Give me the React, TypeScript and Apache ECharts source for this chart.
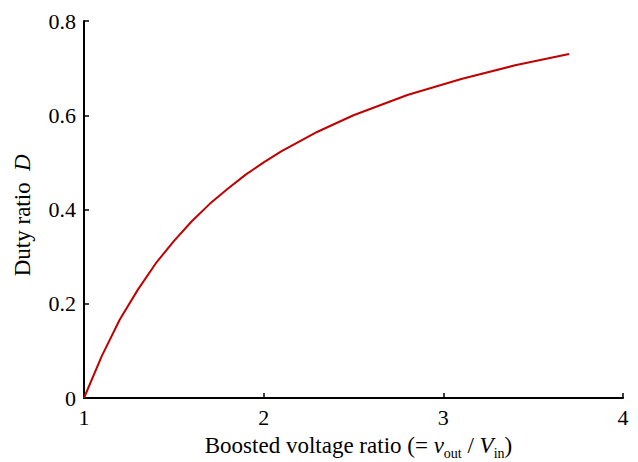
import React, { useEffect, useRef } from "react";
import * as echarts from "echarts";

const ratio = [1, 1.1, 1.2, 1.3, 1.4, 1.5, 1.6, 1.7, 1.8, 1.9, 2.0, 2.1, 2.3, 2.5, 2.8, 3.1, 3.4, 3.6, 3.7];
const duty = [0, 0.09, 0.167, 0.23, 0.286, 0.333, 0.375, 0.412, 0.444, 0.474, 0.5, 0.524, 0.565, 0.6, 0.643, 0.677, 0.706, 0.722, 0.73];
const xTicks = [1, 2, 3, 4];
const yTicks = [0, 0.2, 0.4, 0.6, 0.8];

const FONT = "Liberation Serif";

export default function App() {
  const ref = useRef<HTMLDivElement>(null);
  useEffect(() => {
    if (!ref.current) return;
    const chart = echarts.init(ref.current, null, { renderer: "svg", width: 638, height: 462 });
    const axisCommon = {
      axisLine: { show: true, lineStyle: { color: "#000", width: 2 } },
      axisTick: { show: true, inside: true, length: 5, lineStyle: { color: "#000", width: 1.5 } },
      splitLine: { show: false },
    };
    chart.setOption({
      animation: false,
      backgroundColor: "#fff",
      grid: { left: 84, right: 15, top: 21, bottom: 64, containLabel: false, outerBoundsMode: "none" },
      xAxis: {
        type: "value",
        min: xTicks[0],
        max: xTicks[xTicks.length - 1],
        interval: 1,
        ...axisCommon,
        axisLabel: {
          color: "#000",
          fontFamily: FONT,
          fontSize: 22,
          margin: 8,
          formatter: (v: number) => (xTicks.includes(v) ? String(v) : ""),
        },
        name: "{n|Boosted voltage ratio (= }{i|v}{s|out}{n| / }{i|V}{s|in}{n|)}",
        nameLocation: "middle",
        nameGap: 38,
        nameTextStyle: {
          padding: [0, 0, 0, 10],
          rich: {
            n: { fontFamily: FONT, fontSize: 23, color: "#000", lineHeight: 21, verticalAlign: "bottom" },
            i: { fontFamily: FONT, fontSize: 23, fontStyle: "italic", color: "#000", lineHeight: 21, verticalAlign: "bottom" },
            s: { fontFamily: FONT, fontSize: 14, color: "#000", lineHeight: 21, verticalAlign: "bottom", padding: [0, 0, -3, 0] },
          },
        },
      },
      yAxis: {
        type: "value",
        min: 0,
        max: 0.8,
        interval: 0.2,
        ...axisCommon,
        axisLabel: {
          color: "#000",
          fontFamily: FONT,
          fontSize: 22,
          margin: 8,
          formatter: (v: number) => {
            const t = yTicks.find((y) => Math.abs(y - v) < 1e-9);
            return t === undefined ? "" : t === 0 ? "0" : t.toFixed(1);
          },
        },
        name: "{n|Duty ratio  }{i|D}{n|  }",
        nameLocation: "middle",
        nameGap: 50,
        nameTextStyle: {
          rich: {
            n: { fontFamily: FONT, fontSize: 23, color: "#000" },
            i: { fontFamily: FONT, fontSize: 23, fontStyle: "italic", color: "#000" },
          },
        },
      },
      series: [
        {
          type: "line",
          data: ratio.map((x, i) => [x, duty[i]]),
          showSymbol: false,
          smooth: false,
          lineStyle: { color: "#c00000", width: 2 },
        },
      ],
    });
    return () => chart.dispose();
  }, []);
  return (
    <div
      ref={ref}
      style={{ position: "absolute", left: 0, top: 0, width: 638, height: 462 }}
    />
  );
}
